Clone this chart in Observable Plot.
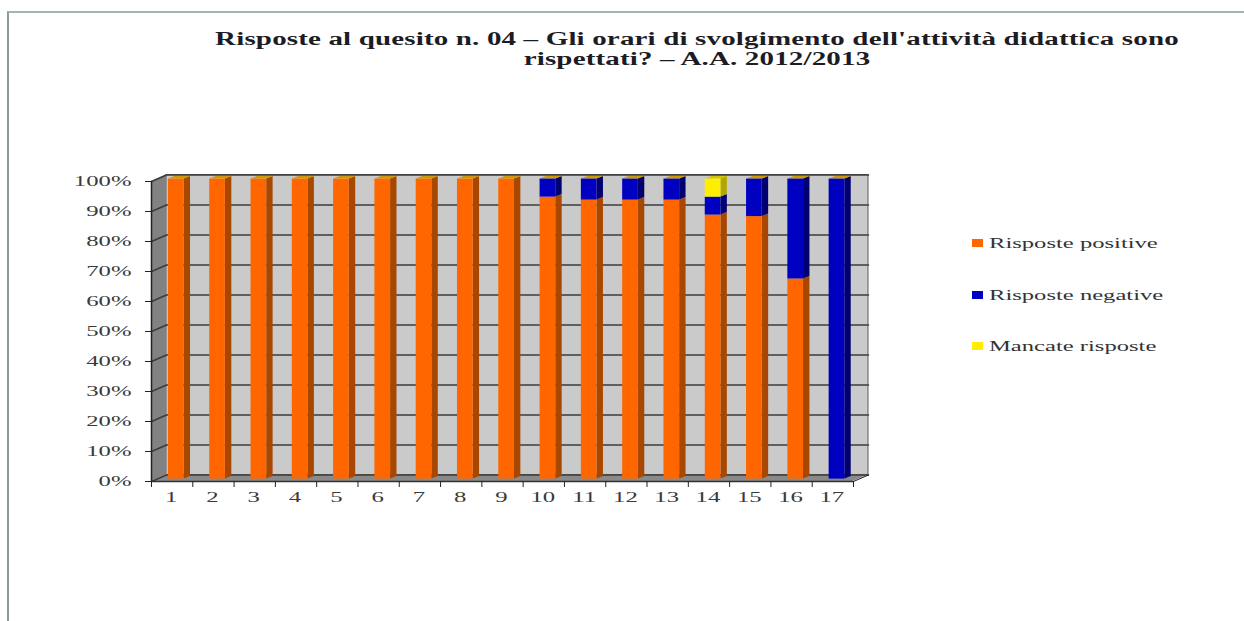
<!DOCTYPE html>
<html lang="it">
<head>
<meta charset="utf-8">
<script src="https://cdn.jsdelivr.net/npm/d3@7"></script>
<script src="https://cdn.jsdelivr.net/npm/@observablehq/plot@0.6"></script>
<style>
  html, body { margin: 0; padding: 0; background: #fff; }
  #page { position: relative; width: 1244px; height: 621px; overflow: hidden; font-family: "Liberation Serif", serif; }
  #frame { position: absolute; left: 7px; top: 11px; right: 0; bottom: 0; border-left: 2px solid #8c9c9c; border-top: 2px solid #a5b5b5; }
  #title { position: absolute; left: 147px; width: 1100px; top: 29px; text-align: center; font: bold 18px/20px "Liberation Serif", serif; letter-spacing: 0.1px; color: #1c1c24; transform: scaleX(1.61); transform-origin: 550px 0; white-space: nowrap; }
  #chart { position: absolute; left: 0; top: 70px; }
  #legend { position: absolute; left: 972px; top: 233px; font: 15px/20px "Liberation Serif", serif; color: #333; }
  #legend div { height: 51.5px; display: flex; align-items: flex-start; }
  #legend i { display: inline-block; width: 11px; height: 8px; margin: 6px 6px 0 0; }
  #legend span { display: inline-block; transform: scaleX(1.64); transform-origin: 0 0; white-space: nowrap; }
</style>
</head>
<body>
<div id="page">
  <div id="frame"></div>
  <div id="title">Risposte al quesito n. 04 – Gli orari di svolgimento dell'attività didattica sono<br>rispettati? – A.A. 2012/2013</div>
  <div id="chart"></div>
  <div id="legend"></div>
</div>
<script>
const categories = ["1","2","3","4","5","6","7","8","9","10","11","12","13","14","15","16","17"];
const positive = [100,100,100,100,100,100,100,100,100,94,93,93,93,88,87.5,66.7,0];
const negative = [0,0,0,0,0,0,0,0,0,6,7,7,7,6,12.5,33.3,100];
const missing  = [0,0,0,0,0,0,0,0,0,0,0,0,0,6,0,0,0];
const seriesNames = ["Risposte positive","Risposte negative","Mancate risposte"];
const seriesValues = [positive, negative, missing];
const yTicks = [0,10,20,30,40,50,60,70,80,90,100];

const colors = {
  front: ["#ff6600","#0000c0","#ffee00"],
  side:  ["#a84800","#000070","#b0a800"]
};
const topColor = "#cf9a00", topColorFilled = "#d4c400";
// 3D look, expressed in data units
const wallDx = 0.363, wallDy = 2.17;
const barX1 = 0.41, barX2 = 0.79, barDx = 0.155, barLift = 0.8, barDy = 0.85;

const fronts = [], faces = [];
function para(id, c, pts) { pts.forEach(p => faces.push({id, c, x: p[0], y1: p[1], y2: p[2]})); }
categories.forEach((cat, i) => {
  const xa = i + barX1, xb = i + barX2;
  let base = 0;
  seriesValues.forEach((vals, s) => {
    const v = vals[i];
    if (v > 0) {
      const lo = base + barLift, hi = base + v + barLift;
      fronts.push({x1: xa, x2: xb, y1: lo, y2: hi, c: colors.front[s]});
      para(`side-${i}-${s}`, colors.side[s], [[xb, lo, hi], [xb + barDx, lo + barDy, hi + barDy]]);
    }
    base += v;
  });
  const t = base + barLift;
  para(`top-${i}`, missing[i] > 0 ? topColorFilled : topColor,
    [[xa, t, t], [xa + barDx, t, t + barDy], [xb, t, t + barDy], [xb + barDx, t + barDy, t + barDy]]);
});

const n = categories.length;
const wall = [{x1: wallDx, x2: n + wallDx, y1: wallDy, y2: 100 + wallDy}];
const leftWall = [{x: 0, y1: 0, y2: 100}, {x: wallDx, y1: wallDy, y2: 100 + wallDy}];
const floor = [{x: 0, y1: 0, y2: 0}, {x: wallDx, y1: 0, y2: wallDy}, {x: n, y1: 0, y2: wallDy}, {x: n + wallDx, y1: wallDy, y2: wallDy}];
const gridRows = yTicks.flatMap(t => [
  {t, x: 0, y: t}, {t, x: wallDx, y: t + wallDy}, {t, x: n + wallDx, y: t + wallDy}
]);
const edges = d3.range(n + 1);
const labelFont = "Liberation Serif, serif";

const plot = Plot.plot({
  width: 1244, height: 551,
  marginLeft: 151, marginRight: 391, marginTop: 111, marginBottom: 140,
  x: {domain: [0, n], axis: null},
  y: {domain: [0, 100], axis: null},
  style: {background: "transparent", color: "#3a3a3a", overflow: "visible"},
  marks: [
    Plot.rect(wall, {x1: "x1", x2: "x2", y1: "y1", y2: "y2", fill: "#cacaca", stroke: "#5a5a5a", strokeWidth: 1}),
    Plot.areaY(leftWall, {x: "x", y1: "y1", y2: "y2", fill: "#828282"}),
    Plot.areaY(floor, {x: "x", y1: "y1", y2: "y2", fill: "#8a8a8a"}),
    Plot.line(gridRows, {x: "x", y: "y", z: "t", stroke: "#3c3c3c", strokeWidth: 1.5}),
    Plot.line([{x: 0, y: 0}, {x: 0, y: 100}], {x: "x", y: "y", stroke: "#222", strokeWidth: 1.5}),
    Plot.line([{x: n, y: 0}, {x: n + wallDx, y: wallDy}], {x: "x", y: "y", stroke: "#222", strokeWidth: 1}),
    Plot.areaY(faces, {x: "x", y1: "y1", y2: "y2", z: "id", fill: "c"}),
    Plot.rect(fronts, {x1: "x1", x2: "x2", y1: "y1", y2: "y2", fill: "c"}),
    Plot.ruleY([0], {stroke: "#333", strokeWidth: 1.5}),
    Plot.axisY({ticks: yTicks, tickSize: 6, tickPadding: 14, tickFormat: d => d + "%", fontSize: 15, fontFamily: labelFont, fill: "#3a3a3a", stroke: "#222"}),
    Plot.axisX({ticks: edges, tickSize: 6, tickFormat: () => "", stroke: "#222"}),
    Plot.text(categories, {x: (d, i) => i + 0.5, frameAnchor: "bottom", dy: 20, dx: -1, text: d => d, fontSize: 15, fontFamily: labelFont, fill: "#3a3a3a"})
  ]
});
// the reference is a horizontally stretched picture: widen the labels the same way
plot.querySelectorAll("text").forEach(t => {
  const tr = t.getAttribute("transform");
  if (tr) t.setAttribute("transform", tr + " scale(1.65,1)");
});
document.getElementById("chart").appendChild(plot);

const legend = document.getElementById("legend");
seriesNames.forEach((name, s) => {
  const row = document.createElement("div");
  const sw = document.createElement("i");
  sw.style.background = colors.front[s];
  const label = document.createElement("span");
  label.textContent = name;
  row.appendChild(sw);
  row.appendChild(label);
  legend.appendChild(row);
});
</script>
</body>
</html>
